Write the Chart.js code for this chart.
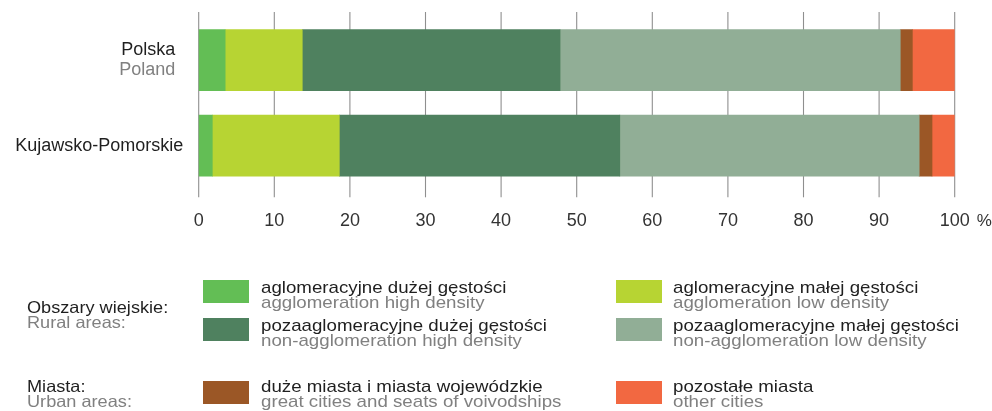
<!DOCTYPE html>
<html>
<head>
<meta charset="utf-8">
<script src="https://cdn.jsdelivr.net/npm/chart.js@4.4.1/dist/chart.umd.min.js"></script>
<style>
  html, body { margin: 0; padding: 0; background: #fff; }
  #wrap { position: relative; width: 992px; height: 411px; overflow: hidden; font-family: "Liberation Sans", Arial, sans-serif; }
  #c { position: absolute; left: 0; top: 0; }
  .grp { position: absolute; font-size: 16.5px; line-height: 15px; white-space: nowrap; transform-origin: 0 0; transform: scaleX(1.1); }
  .item { position: absolute; font-size: 17px; line-height: 15px; white-space: nowrap; }
  .item .t { position: absolute; transform-origin: 0 0; transform: scaleX(1.1); white-space: nowrap; }
  .sw { position: absolute; width: 46px; height: 23px; }
  .pl { color: #1f1f1f; }
  .en { color: #808080; }
</style>
</head>
<body>
<div id="wrap">
  <canvas id="c" width="992" height="411"></canvas>
  <div id="legend"></div>
</div>
<script>
// ---- data ----
const categories   = ['Polska', 'Kujawsko-Pomorskie'];
const categoriesEn = ['Poland', ''];
const seriesPl = ['aglomeracyjne dużej gęstości', 'aglomeracyjne małej gęstości', 'pozaaglomeracyjne dużej gęstości', 'pozaaglomeracyjne małej gęstości', 'duże miasta i miasta wojewódzkie', 'pozostałe miasta'];
const seriesEn = ['agglomeration high density', 'agglomeration low density', 'non-agglomeration high density', 'non-agglomeration low density', 'great cities and seats of voivodships', 'other cities'];
const aggloHigh    = [3.5, 1.8];
const aggloLow     = [10.2, 16.8];
const nonAggloHigh = [34.1, 37.1];
const nonAggloLow  = [45.0, 39.6];
const greatCities  = [1.6, 1.7];
const otherCities  = [5.6, 3.0];
const groupPl = ['Obszary wiejskie:', 'Miasta:'];
const groupEn = ['Rural areas:', 'Urban areas:'];
const xTicks = [0, 10, 20, 30, 40, 50, 60, 70, 80, 90, 100];
const unitLabel = '%';

// ---- styles ----
const colors = ['#63be55', '#b7d433', '#4f815f', '#91ae96', '#9b5726', '#f26841'];
const seriesValues = [aggloHigh, aggloLow, nonAggloHigh, nonAggloLow, greatCities, otherCities];
const FONT = '"Liberation Sans", Arial, sans-serif';

const datasets = seriesValues.map((v, i) => ({
  label: seriesPl[i],
  data: v,
  backgroundColor: colors[i],
  borderWidth: 0,
  barThickness: 61
}));

const labelRightOffsets = [23.5, 15.5];

const customPlugin = {
  id: 'custom',
  beforeDatasetsDraw(chart) {
    const ctx = chart.ctx, x = chart.scales.x, a = chart.chartArea;
    ctx.save();
    ctx.strokeStyle = '#8f8f8f';
    ctx.lineWidth = 1.1;
    xTicks.forEach(t => {
      const px = x.getPixelForValue(t);
      ctx.beginPath();
      ctx.moveTo(px, a.top - 5.3);
      ctx.lineTo(px, a.bottom + 9);
      ctx.stroke();
    });
    ctx.restore();
  },
  afterDraw(chart) {
    const ctx = chart.ctx, x = chart.scales.x, y = chart.scales.y, a = chart.chartArea;
    ctx.save();
    ctx.font = '18px ' + FONT;
    ctx.textAlign = 'right';
    ctx.textBaseline = 'alphabetic';
    categories.forEach((c, i) => {
      const cy = y.getPixelForValue(i);
      const lines = [c];
      const cols = ['#1f1f1f'];
      if (categoriesEn[i]) { lines.push(categoriesEn[i]); cols.push('#808080'); }
      const gap = 19.4;
      const first = cy - (lines.length - 1) * gap / 2 + 5;
      lines.forEach((l, k) => {
        ctx.fillStyle = cols[k];
        ctx.fillText(l, a.left - labelRightOffsets[i], first + k * gap);
      });
    });
    // unit after last tick
    ctx.font = '17px ' + FONT;
    ctx.textAlign = 'left';
    ctx.fillStyle = '#333';
    ctx.textBaseline = 'alphabetic';
    const px = x.getPixelForValue(xTicks[xTicks.length - 1]);
    ctx.fillText(unitLabel, px + 22, a.bottom + 38);
    ctx.restore();
  }
};

new Chart(document.getElementById('c'), {
  type: 'bar',
  data: { labels: categories, datasets },
  options: {
    indexAxis: 'y',
    responsive: false,
    animation: false,
    events: [],
    layout: { padding: { left: 198.7, right: 37.3, top: 17.3, bottom: 164.3 } },
    plugins: { legend: { display: false }, tooltip: { enabled: false }, title: { display: false } },
    scales: {
      x: {
        stacked: true,
        min: 0, max: 100,
        grid: { display: false },
        border: { display: false },
        afterBuildTicks: (s) => { s.ticks = xTicks.map(v => ({ value: v })); },
        ticks: { color: '#333', font: { family: FONT, size: 18 }, padding: 14.4, maxRotation: 0, autoSkip: false }
      },
      y: {
        stacked: true,
        display: false
      }
    }
  },
  plugins: [customPlugin]
});

// ---- legend (HTML) ----
const leg = document.getElementById('legend');
const grpTops = [299.5, 378.5];
groupPl.forEach((g, i) => {
  const d = document.createElement('div');
  d.className = 'grp';
  d.style.left = '27px';
  d.style.top = grpTops[i] + 'px';
  d.innerHTML = '<div class="pl">' + g + '</div><div class="en">' + groupEn[i] + '</div>';
  leg.appendChild(d);
});
const colX = [203, 616];
const txtX = [261, 673];
const rowSwTop = [280, 318.3, 381];
const rowTxtTop = [279.5, 317.5, 378.5];
const pos = [[0,0],[1,0],[0,1],[1,1],[0,2],[1,2]];
seriesPl.forEach((s, i) => {
  const [c, r] = pos[i];
  const sw = document.createElement('div');
  sw.className = 'sw';
  sw.style.left = colX[c] + 'px';
  sw.style.top = rowSwTop[r] + 'px';
  sw.style.background = colors[i];
  leg.appendChild(sw);
  const t = document.createElement('div');
  t.className = 'item';
  t.style.left = txtX[c] + 'px';
  t.style.top = rowTxtTop[r] + 'px';
  t.innerHTML = '<div class="t"><div class="pl">' + s + '</div><div class="en">' + seriesEn[i] + '</div></div>';
  leg.appendChild(t);
});
</script>
</body>
</html>
